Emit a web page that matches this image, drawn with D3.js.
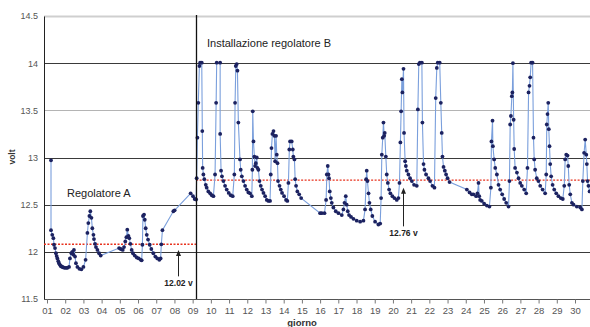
<!doctype html>
<html>
<head>
<meta charset="utf-8" />
<title>Tensione batteria - regolatori</title>
<script src="https://cdn.jsdelivr.net/npm/d3@7"></script>
<style>
  body { margin: 0; background: #fff; }
  svg { display: block; font-family: "Liberation Sans", Arial, sans-serif; }
</style>
</head>
<body>
<div id="chart"></div>
<script>
// misure [giorno, volt] con regolatore A
var regA = [
  [1.22,12.97],[1.22,12.23],[1.29,12.18],[1.35,12.145],[1.385,12.075],[1.44,12.04],[1.49,11.985],[1.53,11.955],
  [1.57,11.93],[1.62,11.90],[1.66,11.88],[1.70,11.865],[1.75,11.85],[1.80,11.845],[1.84,11.84],[1.90,11.835],
  [1.97,11.83],[2.05,11.83],[2.12,11.83],[2.21,11.84],[2.26,11.93],[2.34,11.985],[2.39,12.0],[2.45,11.97],
  [2.48,12.02],[2.54,11.95],[2.59,11.88],[2.67,11.84],[2.78,11.82],[2.89,11.815],[3.0,11.84],[3.12,11.915],
  [3.22,12.2],[3.27,12.305],[3.33,12.38],[3.38,12.43],[3.44,12.36],[3.49,12.25],[3.55,12.18],[3.58,12.135],
  [3.64,12.085],[3.69,12.05],[3.77,12.02],[3.86,11.985],[3.95,11.96],
  [4.96,12.04],[5.05,12.03],[5.16,12.02],[5.23,12.05],[5.30,12.11],[5.36,12.155],[5.41,12.235],[5.47,12.17],
  [5.52,12.145],[5.58,12.085],[5.65,12.02],[5.72,11.985],[5.82,11.96],[5.93,11.94],[6.04,11.93],[6.15,11.915],
  [6.20,11.91],[6.24,12.075],[6.27,12.38],[6.33,12.395],[6.37,12.34],[6.42,12.25],[6.48,12.18],[6.55,12.13],
  [6.64,12.075],[6.73,12.03],[6.84,11.985],[6.95,11.95],[7.06,11.93],[7.17,11.915],[7.24,11.93],[7.28,12.08],
  [7.34,12.23],[7.94,12.43],[8.01,12.44],[8.89,12.62],[9.02,12.59],[9.11,12.56],[9.19,12.555]
];

// misure [giorno, volt] con regolatore B
var regB = [
  [9.19,12.555],[9.22,12.78],[9.26,13.21],[9.31,13.58],[9.37,13.97],[9.41,14.005],[9.5,14.005],[9.53,13.28],
  [9.55,12.89],[9.59,12.82],[9.64,12.77],[9.72,12.71],[9.77,12.68],[9.86,12.64],[9.96,12.62],[10.05,12.60],
  [10.14,12.59],[10.23,12.82],[10.29,13.58],[10.32,14.005],[10.51,14.005],[10.51,13.25],[10.56,12.86],
  [10.61,12.80],[10.69,12.75],[10.78,12.70],[10.87,12.66],[10.98,12.625],[11.09,12.60],[11.20,12.59],
  [11.29,12.82],[11.33,13.58],[11.37,13.97],[11.42,13.99],[11.46,13.92],[11.51,13.37],[11.60,12.98],
  [11.64,12.87],[11.70,12.80],[11.79,12.75],[11.88,12.70],[11.97,12.66],[12.06,12.63],[12.15,12.62],
  [12.25,12.59],[12.28,12.87],[12.30,13.49],[12.34,13.17],[12.39,13.01],[12.43,12.91],[12.47,12.94],
  [12.52,13.0],[12.56,12.89],[12.61,12.87],[12.67,12.75],[12.74,12.70],[12.81,12.66],[12.89,12.625],
  [12.98,12.59],[13.07,12.55],[13.16,12.54],[13.25,12.54],[13.29,12.82],[13.33,13.10],[13.38,13.25],
  [13.44,13.28],[13.49,13.23],[13.53,12.96],[13.58,13.23],[13.62,13.03],[13.66,12.94],[13.69,12.75],
  [13.77,12.70],[13.84,12.66],[13.91,12.625],[14.02,12.59],[14.13,12.55],[14.20,12.54],[14.26,12.73],
  [14.31,13.085],[14.35,13.17],[14.44,13.17],[14.50,13.085],[14.53,13.01],[14.59,12.98],[14.63,12.77],
  [14.68,12.70],[14.75,12.64],[14.85,12.61],[14.96,12.57],
  [16.0,12.41],[16.09,12.41],[16.24,12.41],[16.33,12.55],[16.37,12.82],[16.42,12.91],[16.46,12.82],
  [16.49,12.78],[16.53,12.64],[16.59,12.57],[16.64,12.52],[16.73,12.47],[16.86,12.43],[17.01,12.41],
  [17.19,12.39],[17.28,12.45],[17.34,12.52],[17.41,12.59],[17.46,12.50],[17.52,12.43],[17.59,12.39],
  [17.70,12.37],[17.83,12.35],[18.01,12.33],[18.20,12.32],[18.38,12.33],[18.47,12.45],[18.53,12.77],
  [18.56,12.86],[18.60,12.75],[18.66,12.62],[18.71,12.52],[18.78,12.45],[18.87,12.38],[19.02,12.32],
  [19.20,12.29],[19.30,12.30],[19.35,12.57],[19.39,13.03],[19.44,13.21],[19.48,13.37],[19.52,13.23],
  [19.55,13.26],[19.61,13.01],[19.66,12.82],[19.72,12.73],[19.79,12.66],[19.86,12.62],[19.97,12.59],
  [20.08,12.57],[20.21,12.55],[20.30,12.57],[20.36,12.73],[20.41,13.16],[20.45,13.49],[20.49,13.83],
  [20.52,13.69],[20.58,13.94],[20.61,13.26],[20.67,12.96],[20.71,12.91],[20.76,12.86],[20.85,12.82],
  [20.94,12.78],[21.04,12.75],[21.16,12.71],[21.31,12.70],[21.37,13.51],[21.42,13.99],[21.48,14.005],
  [21.59,14.005],[21.62,13.37],[21.68,12.93],[21.73,12.87],[21.82,12.82],[21.95,12.78],[22.04,12.75],
  [22.17,12.70],[22.28,12.68],[22.35,13.63],[22.41,13.95],[22.46,14.005],[22.57,14.005],[22.63,13.58],
  [22.68,13.26],[22.72,13.01],[22.78,12.90],[22.85,12.86],[22.92,12.82],[23.0,12.78],[23.11,12.74],
  [24.06,12.66],[24.21,12.63],[24.33,12.61],[24.42,12.61],[24.57,12.59],[24.64,12.62],[24.70,12.73],
  [24.74,12.59],[24.79,12.55],[24.88,12.54],[25.01,12.51],[25.16,12.49],[25.30,12.48],[25.38,12.68],
  [25.41,13.17],[25.47,13.39],[25.49,13.12],[25.56,12.98],[25.62,12.89],[25.71,12.82],[25.80,12.71],
  [25.89,12.66],[26.0,12.61],[26.11,12.56],[26.22,12.52],[26.35,12.48],[26.40,12.75],[26.44,13.35],
  [26.48,13.44],[26.53,13.65],[26.56,13.69],[26.59,14.0],[26.63,13.40],[26.66,13.09],[26.71,12.89],
  [26.81,12.84],[26.90,12.78],[26.99,12.73],[27.08,12.70],[27.21,12.66],[27.32,12.62],[27.39,12.89],
  [27.45,13.69],[27.50,13.76],[27.54,13.85],[27.59,14.005],[27.67,14.005],[27.72,13.21],[27.76,12.98],
  [27.81,12.87],[27.90,12.78],[27.99,12.75],[28.09,12.70],[28.22,12.66],[28.36,12.62],[28.42,12.82],
  [28.45,13.35],[28.49,13.46],[28.53,13.58],[28.56,13.30],[28.60,13.12],[28.64,12.93],[28.69,12.80],
  [28.77,12.71],[28.86,12.66],[28.97,12.62],[29.09,12.59],[29.22,12.57],[29.33,12.56],[29.41,12.70],
  [29.46,12.98],[29.52,13.03],[29.59,13.02],[29.63,12.91],[29.68,12.71],[29.74,12.61],[29.83,12.52],
  [29.92,12.50],[30.10,12.48],[30.29,12.47],[30.38,12.45],[30.43,12.75],[30.50,13.05],[30.56,13.19],
  [30.62,13.03],[30.65,12.93],[30.69,12.75],[30.74,12.70],[30.80,12.64]
];

var giorni = d3.range(1, 31);                 // tick asse x
var yTicks = [11.5, 12, 12.5, 13, 13.5, 14, 14.5];
var mediaA = 12.08, mediaB = 12.76;            // linee rosse tratteggiate
var cambioRegolatore = 9.19;                   // giorno installazione B
var frecciaA = { giorno: 8.2, da: 11.74, a: 12.02, testo: "12.02 v" };
var frecciaB = { giorno: 20.56, da: 12.27, a: 12.68, testo: "12.76 v" };

var W = 590, H = 327;
var mLeft = 44, mRight = 590, mTop = 16, mBottom = 299;

var x = d3.scaleLinear().domain([1, 30]).range([47, 575]);
var y = d3.scaleLinear().domain([11.5, 14.5]).range([mBottom, mTop]);

var svg = d3.select('#chart').append('svg')
    .attr('width', W).attr('height', H);

// griglia orizzontale
svg.append('g').selectAll('line')
    .data(yTicks.slice(1))
    .enter().append('line')
    .attr('x1', mLeft).attr('x2', mRight)
    .attr('y1', function (d) { return Math.round(y(d)) + 0.5; })
    .attr('y2', function (d) { return Math.round(y(d)) + 0.5; })
    .style('stroke', function (d) {
        if (d === 14.5) return '#cfcfcf';
        if (d === 13.5) return '#b4b4b4';
        return '#3a3a3a';
    })
    .style('stroke-width', function (d) { return d === 14.5 ? 2 : 1.2; });

// assi
var yAxis = d3.axisLeft(y).tickValues(yTicks).tickSize(0).tickPadding(6)
    .tickFormat(function (d) { return d; });
svg.append('g').attr('transform', 'translate(' + mLeft + ',0)').call(yAxis)
    .call(function (g) {
        g.select('.domain').style('stroke', '#222');
        g.selectAll('text').style('font-size', '9px').style('fill', '#555');
    });

var xAxis = d3.axisBottom(x).tickValues(giorni).tickSize(4).tickPadding(4)
    .tickFormat(function (d) { return (d < 10 ? '0' : '') + d; });
svg.append('g').attr('transform', 'translate(0,' + (mBottom + 0.5) + ')').call(xAxis)
    .call(function (g) {
        g.select('.domain').attr('d', 'M' + mLeft + ',0H' + mRight).style('stroke', '#555');
        g.selectAll('line').style('stroke', '#777');
        g.selectAll('text').style('font-size', '9.5px').style('fill', '#555');
    });

// linee medie rosse
svg.append('line')
    .attr('x1', mLeft).attr('x2', x(cambioRegolatore))
    .attr('y1', y(mediaA)).attr('y2', y(mediaA))
    .style('stroke', '#e8321e').style('stroke-width', 1.4).style('stroke-dasharray', '2,1.5');
svg.append('line')
    .attr('x1', x(cambioRegolatore)).attr('x2', mRight)
    .attr('y1', y(mediaB)).attr('y2', y(mediaB))
    .style('stroke', '#e8321e').style('stroke-width', 1.4).style('stroke-dasharray', '2,1.5');

// serie
var line = d3.line()
    .x(function (d) { return x(d[0]); })
    .y(function (d) { return y(d[1]); });
var tutte = regA.concat(regB.slice(1));

svg.append('path')
    .datum(tutte)
    .attr('d', line)
    .style('fill', 'none')
    .style('stroke', '#7a9fdc')
    .style('stroke-width', 1.1);

svg.append('g').selectAll('circle')
    .data(tutte)
    .enter().append('circle')
    .attr('cx', function (d) { return x(d[0]); })
    .attr('cy', function (d) { return y(d[1]); })
    .attr('r', 1.9)
    .style('fill', '#1c2260');

// linea verticale installazione B
svg.append('line')
    .attr('x1', Math.round(x(cambioRegolatore)) + 0.5).attr('x2', Math.round(x(cambioRegolatore)) + 0.5)
    .attr('y1', mTop - 1).attr('y2', mBottom)
    .style('stroke', '#111').style('stroke-width', 1.3);

// frecce
[frecciaA, frecciaB].forEach(function (f) {
    var fx = Math.round(x(f.giorno)) + 0.5;
    svg.append('line')
        .attr('x1', fx).attr('x2', fx)
        .attr('y1', y(f.da)).attr('y2', y(f.a) + 4)
        .style('stroke', '#222').style('stroke-width', 1);
    svg.append('path')
        .attr('d', 'M' + (fx - 2.5) + ',' + (y(f.a) + 6) + 'L' + fx + ',' + y(f.a) + 'L' + (fx + 2.5) + ',' + (y(f.a) + 6) + 'Z')
        .style('fill', '#222');
    svg.append('text')
        .attr('x', fx).attr('y', y(f.da) + 9.5)
        .attr('text-anchor', 'middle')
        .style('font-size', '8.5px').style('font-weight', 'bold').style('fill', '#222')
        .text(f.testo);
});

// testi
svg.append('text').attr('x', 67).attr('y', 197)
    .style('font-size', '11px').style('fill', '#222').text('Regolatore A');
svg.append('text').attr('x', 207).attr('y', 47)
    .style('font-size', '11px').style('fill', '#222').text('Installazione regolatore B');

svg.append('text')
    .attr('transform', 'translate(15,157) rotate(-90)')
    .attr('text-anchor', 'middle')
    .style('font-size', '8.5px').style('font-weight', 'bold').style('fill', '#333')
    .text('volt');
svg.append('text')
    .attr('x', 302).attr('y', 326)
    .attr('text-anchor', 'middle')
    .style('font-size', '9.5px').style('font-weight', 'bold').style('fill', '#333')
    .text('giorno');
</script>
</body>
</html>
